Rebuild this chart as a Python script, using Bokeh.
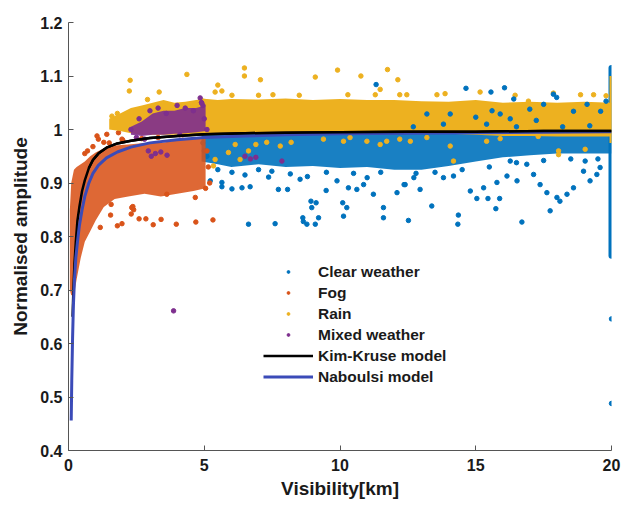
from bokeh.plotting import figure
from bokeh.models import (FixedTicker, CustomJSTickFormatter, Legend, LegendItem, Range1d)
from bokeh.embed import file_html
from bokeh.resources import INLINE

CLEAR = "#0072BD"
FOG = "#D95319"
RAIN = "#EDB120"
MIX = "#7E2F8E"
NAB = "#3B4BB8"

# ---------------- data ----------------
# dense cores (edges of the point clouds)
clear_core_x = [4.9, 5.5, 6, 7, 8, 9, 10, 11, 12, 13, 14, 15, 16, 17, 18, 19, 20]
clear_core_lo = [0.94, 0.935, 0.93, 0.935, 0.93, 0.932, 0.928, 0.93, 0.925, 0.925, 0.932, 0.94, 0.948, 0.952, 0.955, 0.955, 0.955]
clear_core_hi = [0.99, 0.992, 0.993, 0.993, 0.993, 0.994, 0.994, 0.994, 0.995, 0.995, 0.995, 0.996, 0.996, 0.996, 0.996, 0.996, 0.996]

rain_core_x = [4.9, 5.5, 6, 7, 8, 9, 10, 11, 12, 13, 14, 15, 16, 17, 18, 19, 20]
rain_core_lo = [0.992, 0.993, 0.993, 0.993, 0.994, 0.994, 0.994, 0.994, 0.994, 0.993, 0.992, 0.99, 0.988, 0.988, 0.987, 0.987, 0.987]
rain_core_hi = [1.058, 1.055, 1.057, 1.056, 1.058, 1.055, 1.057, 1.055, 1.055, 1.053, 1.052, 1.055, 1.05, 1.052, 1.05, 1.052, 1.05]

rain_left_x = [1.5, 1.9, 2.3, 2.7, 3.1, 3.5, 3.9, 4.3, 4.7, 5.0]
rain_left_lo = [1.0, 0.997, 0.993, 0.99, 0.99, 0.99, 0.99, 0.99, 0.99, 0.99]
rain_left_hi = [1.02, 1.03, 1.04, 1.045, 1.05, 1.055, 1.05, 1.052, 1.055, 1.058]

fog_core_x = [0.05, 0.1, 0.2, 0.3, 0.45, 0.6, 0.8, 1.0, 1.3, 1.7, 2.2, 2.8, 3.4, 4.0, 4.6, 5.05]
fog_core_lo = [0.70, 0.69, 0.69, 0.72, 0.76, 0.79, 0.81, 0.83, 0.855, 0.87, 0.875, 0.88, 0.875, 0.88, 0.885, 0.89]
fog_core_hi = [0.85, 0.90, 0.925, 0.93, 0.935, 0.94, 0.95, 0.957, 0.965, 0.97, 0.972, 0.975, 0.975, 0.98, 0.982, 0.985]

mix_core_x = [2.3, 2.7, 3.1, 3.5, 3.9, 4.3, 4.7, 5.05]
mix_core_lo = [0.99, 0.988, 0.99, 0.99, 0.992, 0.993, 0.995, 0.997]
mix_core_hi = [1.005, 1.015, 1.03, 1.035, 1.035, 1.04, 1.04, 1.045]

# vertical columns of points at 20 km
clear_col_x = [20, 20]
clear_col_y = [0.764, 1.115]
rain_col_x = [20, 20]
rain_col_y = [0.975, 1.10]

# scattered points
clear_x = [5.22, 5.65, 5.65, 6.02, 6.02, 6.39, 6.69, 7.37, 7.49, 7.73, 8.07, 8.17, 8.53, 6.63, 7.61,
           8.63, 8.65, 8.78, 8.96, 9.12, 8.93, 9.21, 9.09, 10.13, 10.1, 10.25, 9.49, 10.31, 10.62, 10.87,
           11.23, 11.6, 11.6, 12.1, 12.36, 9.89, 11.33, 14.64, 16.06, 15.56, 12.52, 13.38, 14.36, 14.34,
           16.7, 15.74, 15.04, 15.45, 15.88, 14.18, 13.81, 14.8, 15.29, 15.78, 16.15, 16.52, 17.13, 17.37,
           17.62, 17.99, 18.1, 18.36, 18.6, 18.97, 19.21, 19.46, 19.58, 12.95, 12.4, 12.72, 17.74, 19.03,
           16.27, 16.88, 20, 20, 5.5, 7.0, 9.5, 10.5, 11.5, 12.8, 13.5, 14.5, 15.5, 16.5, 17.5, 18.5,
           19.5, 6.5, 8.8, 11.0, 5.0, 5.1, 4.95]
clear_y = [0.904, 0.901, 0.893, 0.889, 0.92, 0.891, 0.893, 0.911, 0.922, 0.888, 0.888, 0.917, 0.907, 0.823, 0.824,
           0.835, 0.828, 0.823, 0.854, 0.863, 0.866, 0.835, 0.823, 0.838, 0.863, 0.854, 0.886, 0.891, 0.888, 0.897,
           0.879, 0.854, 0.835, 0.882, 0.897, 0.904, 1.084, 1.077, 1.078, 1.07, 0.83, 0.857, 0.84, 0.823,
           0.827, 0.852, 0.871, 0.871, 0.871, 0.913, 0.91, 0.885, 0.891, 0.901, 0.913, 0.904, 0.916, 0.897,
           0.882, 0.873, 0.866, 0.879, 0.891, 0.922, 0.904, 0.916, 0.929, 0.888, 0.897, 0.91, 0.848, 0.941,
           0.941, 0.935, 0.646, 0.488, 0.925, 0.925, 0.92, 0.918, 0.92, 0.918, 0.92, 0.925, 0.93, 0.938, 0.942, 0.945,
           0.945, 0.915, 0.912, 0.91, 0.96, 0.95, 0.975]

clear_top_x = [15.9, 16.27, 17.86, 17.98, 16.99, 17.23, 15.4, 15.6, 14.06, 13.81, 18.6, 19.1, 19.6, 19.8,
               18.2, 16.5, 15.0, 13.2, 12.7, 19.2, 17.5, 16.4]
clear_top_y = [1.029, 1.02, 1.066, 1.06, 1.038, 1.017, 1.01, 1.035, 1.029, 1.01, 1.034, 1.047, 1.034, 1.053,
               1.005, 1.005, 1.023, 1.029, 1.005, 1.007, 1.047, 1.057]

fog_x = [2.37, 2.31, 2.6, 2.85, 3.12, 3.41, 3.97, 4.69, 1.8, 1.97, 1.57, 1.55, 1.17, 5.32, 1.1, 1.3, 1.05,
         1.41, 1.84, 1.97, 2.33, 3.62, 4.67, 2.4, 5.1, 5.15, 5.2, 5.05, 0.6, 0.7, 0.9, 1.5, 2.0, 2.7, 3.3, 4.2]
fog_y = [0.856, 0.842, 0.833, 0.833, 0.822, 0.832, 0.823, 0.827, 0.82, 0.824, 0.86, 0.84, 0.817, 0.831, 0.982, 0.976, 0.988,
         0.991, 0.994, 0.982, 0.854, 0.879, 0.873, 0.85, 0.96, 0.93, 0.9, 0.89, 0.955, 0.96, 0.968, 0.975, 0.98, 0.983, 0.985, 0.99]

rain_x = [6.48, 6.48, 7.07, 9.09, 9.91, 10.77, 11.75, 12.13, 5.5, 5.65, 5.4, 6.02, 7.0, 7.53, 8.5, 10.29, 11.48,
          11.3, 12.2, 12.46, 13.57, 13.87, 15.16, 16.45, 16.94, 18.86, 19.34, 19.8, 17.86, 2.27, 2.24, 4.36,
          2.91, 3.34, 6.14, 6.63, 6.32, 5.89, 5.4, 5.34, 6.9, 7.8, 7.3, 8.2, 9.39, 10.13, 10.37, 10.99, 11.48,
          11.72, 12.2, 12.59, 13.2, 14.06, 14.18, 15.4, 15.9, 18.05, 18.05, 19.03, 17.3, 1.6, 1.8]
rain_y = [1.115, 1.1, 1.093, 1.098, 1.111, 1.1, 1.112, 1.093, 1.083, 1.072, 1.07, 1.064, 1.064, 1.065, 1.064, 1.065, 1.075,
          1.065, 1.065, 1.065, 1.065, 1.067, 1.07, 1.064, 1.053, 1.065, 1.065, 1.063, 1.068, 1.092, 1.072, 1.103,
          1.056, 1.07, 0.972, 0.96, 0.944, 0.957, 0.944, 0.932, 0.972, 0.969, 0.976, 0.976, 0.982, 0.978, 0.985, 0.978, 0.972,
          0.978, 0.982, 0.978, 0.985, 0.969, 0.941, 0.978, 0.983, 0.96, 0.953, 0.963, 0.987, 1.025, 1.03]

mix_x = [3.87, 6.7, 7.86, 6.5, 6.9, 2.94, 3.2, 3.4, 3.63, 3.05, 2.3, 2.6, 3.0, 3.3, 3.6, 4.0, 4.3, 4.6,
         4.9, 5.0, 5.1, 4.95, 4.85, 4.9, 2.5, 2.8, 4.1]
mix_y = [0.661, 0.945, 0.941, 0.95, 0.948, 0.96, 0.955, 0.958, 0.952, 0.95, 1.0, 1.02, 1.035, 1.04, 1.03, 1.045, 1.04, 1.035,
         1.05, 1.02, 1.0, 1.045, 1.059, 1.05, 0.985, 0.982, 0.99]

# model curves
kk_v = [0.15, 0.18, 0.22, 0.27, 0.33, 0.4, 0.5, 0.6, 0.75, 0.9, 1.1, 1.4, 1.8, 2.3, 3, 4, 5, 6.5, 8, 10, 12.5, 15, 17.5, 20]
kk_a = [0.65, 0.70, 0.75, 0.79, 0.83, 0.855, 0.885, 0.905, 0.928, 0.943, 0.955, 0.966, 0.974, 0.979, 0.984, 0.988,
        0.991, 0.993, 0.994, 0.995, 0.996, 0.996, 0.997, 0.997]
nab_v = [0.1, 0.12, 0.15, 0.18, 0.22, 0.27, 0.33, 0.4, 0.5, 0.6, 0.75, 0.9, 1.1, 1.4, 1.8, 2.3, 3, 4, 5, 6.5, 8, 10, 12.5, 15, 17.5, 20]
nab_a = [0.456, 0.53, 0.61, 0.67, 0.72, 0.76, 0.79, 0.82, 0.85, 0.875, 0.9, 0.918, 0.933, 0.947, 0.958, 0.967, 0.975,
         0.981, 0.985, 0.988, 0.99, 0.992, 0.993, 0.994, 0.995, 0.996]

x_ticks = [0, 5, 10, 15, 20]
y_ticks = [0.4, 0.5, 0.6, 0.7, 0.8, 0.9, 1.0, 1.1, 1.2]

FONT = "Liberation Sans"

p = figure(width=621, height=506, x_range=Range1d(0, 20), y_range=Range1d(0.4, 1.2),
           output_backend="svg", toolbar_location=None,
           min_border_left=68, min_border_right=10, min_border_top=22, min_border_bottom=56)
p.outline_line_color = None
p.grid.visible = False
p.background_fill_color = "white"
p.border_fill_color = "white"

DOT = 4.5

# clear weather
p.varea(x=clear_core_x, y1=clear_core_lo, y2=clear_core_hi, fill_color=CLEAR, fill_alpha=0.9)
p.segment(x0=clear_col_x[0], y0=clear_col_y[0], x1=clear_col_x[1], y1=clear_col_y[1],
          line_color=CLEAR, line_width=6, line_cap="round")
r_clear = p.scatter(clear_x, clear_y, size=DOT, color=CLEAR)

# fog
p.varea(x=fog_core_x, y1=fog_core_lo, y2=fog_core_hi, fill_color=FOG, fill_alpha=0.88)
r_fog = p.scatter(fog_x, fog_y, size=DOT, color=FOG)

# rain
p.varea(x=rain_core_x, y1=rain_core_lo, y2=rain_core_hi, fill_color=RAIN)
p.varea(x=rain_left_x, y1=rain_left_lo, y2=rain_left_hi, fill_color=RAIN)
p.segment(x0=rain_col_x[0], y0=rain_col_y[0], x1=rain_col_x[1], y1=rain_col_y[1],
          line_color=RAIN, line_width=4)
r_rain = p.scatter(rain_x, rain_y, size=DOT, color=RAIN)
p.scatter(clear_top_x, clear_top_y, size=DOT, color=CLEAR)

# mixed
p.varea(x=mix_core_x, y1=mix_core_lo, y2=mix_core_hi, fill_color=MIX, fill_alpha=0.9)
r_mix = p.scatter(mix_x, mix_y, size=DOT, color=MIX)

# models
r_kk = p.line(kk_v, kk_a, line_color="black", line_width=2.5)
r_nab = p.line(nab_v, nab_a, line_color=NAB, line_width=3)
p.line(kk_v[8:], kk_a[8:], line_color="black", line_width=2.5)

# axes
for ax in (p.xaxis[0], p.yaxis[0]):
    ax.axis_line_color = "#555555"
    ax.major_tick_line_color = "#555555"
    ax.major_tick_in = 5
    ax.major_tick_out = 0
    ax.minor_tick_line_color = None
    ax.major_label_text_font = FONT
    ax.major_label_text_font_style = "bold"
    ax.major_label_text_font_size = "16px"
    ax.major_label_text_color = "#1a1a1a"
    ax.axis_label_text_font = FONT
    ax.axis_label_text_font_style = "bold"
    ax.axis_label_text_font_size = "19px"
    ax.axis_label_text_color = "#1a1a1a"

p.xaxis.ticker = FixedTicker(ticks=x_ticks)
p.yaxis.ticker = FixedTicker(ticks=y_ticks)
p.yaxis.formatter = CustomJSTickFormatter(code="return (Math.round(tick*10)/10).toString();")
p.xaxis.axis_label = "Visibility[km]"
p.yaxis.axis_label = "Normalised amplitude"
p.xaxis.major_label_standoff = 8
p.yaxis.major_label_standoff = 6
p.xaxis.axis_label_standoff = 4
p.yaxis.axis_label_standoff = 6

legend = Legend(items=[
    LegendItem(label="Clear weather", renderers=[r_clear]),
    LegendItem(label="Fog", renderers=[r_fog]),
    LegendItem(label="Rain", renderers=[r_rain]),
    LegendItem(label="Mixed weather", renderers=[r_mix]),
    LegendItem(label="Kim-Kruse model", renderers=[r_kk]),
    LegendItem(label="Naboulsi model", renderers=[r_nab]),
], location=(195, 63))
legend.border_line_color = None
legend.background_fill_alpha = 0
legend.padding = 0
legend.margin = 0
legend.spacing = 0
legend.glyph_width = 50
legend.glyph_height = 7
legend.label_height = 21
legend.label_standoff = 5
legend.label_text_font = FONT
legend.label_text_font_style = "bold"
legend.label_text_font_size = "15.5px"
legend.label_text_color = "#1a1a1a"
legend.label_text_baseline = "middle"
p.add_layout(legend)

open("out.html", "w").write(file_html(p, INLINE))
